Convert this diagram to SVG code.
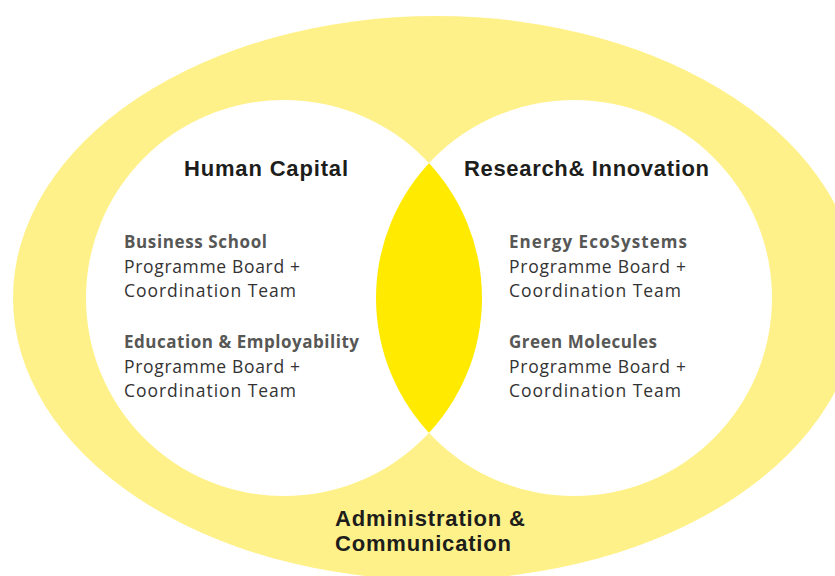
<svg xmlns="http://www.w3.org/2000/svg" width="835" height="576" viewBox="0 0 835 576">
  <defs>
    <style>
      .ring { fill: #FFF189; }
      .area { fill: #FFFFFF; }
      .lens { fill: #FFEA00; }
      .head { font-family: "Liberation Sans", Arial, sans-serif; font-weight: 700; font-size: 22px; fill: #1D1D1B; }
      .sub  { font-family: "Open Sans", Lato, "Liberation Sans", sans-serif; font-weight: 700; font-size: 17px; fill: #575756; }
      .body { font-family: "Open Sans", Lato, "Liberation Sans", sans-serif; font-weight: 400; font-size: 17.5px; fill: #333333; }
    </style>
    <clipPath id="clip-left">
      <circle cx="284" cy="298" r="198"/>
    </clipPath>
  </defs>

  <rect width="835" height="576" fill="#FFFFFF"/>

  <!-- outer band: Administration & Communication -->
  <g id="administration">
    <ellipse class="ring" cx="436" cy="298" rx="423" ry="282"/>
    <text class="head">
      <tspan x="335" y="526" textLength="190" lengthAdjust="spacing">Administration &amp;</tspan>
      <tspan x="335" y="551" textLength="176" lengthAdjust="spacing">Communication</tspan>
    </text>
  </g>

  <!-- left circle: Human Capital -->
  <g id="human-capital">
    <circle class="area" cx="284" cy="298" r="198"/>
  </g>

  <!-- right circle: Research & Innovation -->
  <g id="research-innovation">
    <circle class="area" cx="574" cy="298" r="198"/>
  </g>

  <!-- overlap of the two circles -->
  <g id="overlap">
    <circle class="lens" cx="574" cy="298" r="198" clip-path="url(#clip-left)"/>
  </g>

  <g id="human-capital-text">
    <text class="head" x="184" y="176" textLength="164" lengthAdjust="spacing">Human Capital</text>
    <text class="sub" x="124" y="248" textLength="143" lengthAdjust="spacing">Business School</text>
    <text class="body" x="124" y="273" textLength="176" lengthAdjust="spacing">Programme Board +</text>
    <text class="body" x="124" y="297" textLength="172" lengthAdjust="spacing">Coordination Team</text>
    <text class="sub" x="124" y="348" textLength="235" lengthAdjust="spacing">Education &amp; Employability</text>
    <text class="body" x="124" y="373" textLength="176" lengthAdjust="spacing">Programme Board +</text>
    <text class="body" x="124" y="397" textLength="172" lengthAdjust="spacing">Coordination Team</text>
  </g>

  <g id="research-innovation-text">
    <text class="head" x="464" y="176" textLength="245" lengthAdjust="spacing">Research&amp; Innovation</text>
    <text class="sub" x="509" y="248" textLength="178" lengthAdjust="spacing">Energy EcoSystems</text>
    <text class="body" x="509" y="273" textLength="177" lengthAdjust="spacing">Programme Board +</text>
    <text class="body" x="509" y="297" textLength="172" lengthAdjust="spacing">Coordination Team</text>
    <text class="sub" x="509" y="348" textLength="148" lengthAdjust="spacing">Green Molecules</text>
    <text class="body" x="509" y="373" textLength="177" lengthAdjust="spacing">Programme Board +</text>
    <text class="body" x="509" y="397" textLength="172" lengthAdjust="spacing">Coordination Team</text>
  </g>

  <g id="connectors"/>
</svg>
